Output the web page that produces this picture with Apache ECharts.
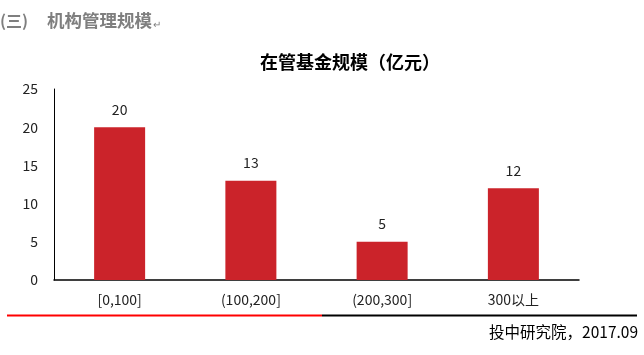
<!DOCTYPE html>
<html><head><meta charset="utf-8">
<script src="https://cdn.jsdelivr.net/npm/echarts@6/dist/echarts.min.js"></script>
<style>html,body{margin:0;padding:0;background:#fff}#c{width:644px;height:355px}</style>
</head><body><div id="c"></div>
<script>
var categories = ['[0,100]', '(100,200]', '(200,300]', '300以上'];
var values = [20, 13, 5, 12];
var yTicks = [0, 5, 10, 15, 20, 25];
var chartTitle = '在管基金规模（亿元）';
var headerNum = '(三)';
var headerText = '机构管理规模';
var footerText = '投中研究院，2017.09';

var FONT = '"Noto Sans CJK SC", "Noto Sans", sans-serif';
var chart = echarts.init(document.getElementById('c'), null, {renderer: 'canvas'});
chart.setOption({
  animation: false,
  backgroundColor: '#ffffff',
  title: {
    text: chartTitle, left: 345, top: 48, textAlign: 'center',
    textStyle: {fontFamily: FONT, fontSize: 18, fontWeight: 'bold', color: '#000'}
  },
  grid: {left: 54, right: 65, top: 89, bottom: 75, containLabel: false},
  xAxis: {
    type: 'category', data: categories,
    axisLine: {lineStyle: {color: '#000', width: 1.5}},
    axisTick: {show: false},
    axisLabel: {fontFamily: FONT, fontSize: 14, color: '#222', margin: 13}
  },
  yAxis: {
    type: 'value', min: yTicks[0], max: yTicks[yTicks.length - 1], interval: 5,
    axisLine: {show: true, lineStyle: {color: '#000', width: 1}},
    axisTick: {show: false},
    splitLine: {show: false},
    axisLabel: {fontFamily: FONT, fontSize: 14, color: '#222', margin: 16}
  },
  series: [{
    type: 'bar', data: values, barWidth: 51,
    itemStyle: {color: '#cb232a'},
    label: {show: true, position: 'top', distance: 11, fontFamily: FONT, fontSize: 14, color: '#222'}
  }],
  graphic: [
    {type: 'text', left: 0, top: 13, style: {text: headerNum, font: 'bold 16px ' + FONT, fill: '#7f7f7f'}},
    {type: 'text', left: 47, top: 12, style: {text: headerText, font: 'bold 17.5px ' + FONT, fill: '#7f7f7f'}},
    {type: 'text', left: 153, top: 19, style: {text: '↵', font: '10px ' + FONT, fill: '#7f7f7f'}},
    {type: 'line', shape: {x1: 7, y1: 315.5, x2: 322, y2: 315.5}, style: {stroke: '#ff0000', lineWidth: 2}},
    {type: 'line', shape: {x1: 322, y1: 315.5, x2: 637, y2: 315.5}, style: {stroke: '#000000', lineWidth: 2}},
    {type: 'text', right: 6, top: 324, style: {text: footerText, font: '15.5px ' + FONT, fill: '#000'}}
  ]
});
</script></body></html>
